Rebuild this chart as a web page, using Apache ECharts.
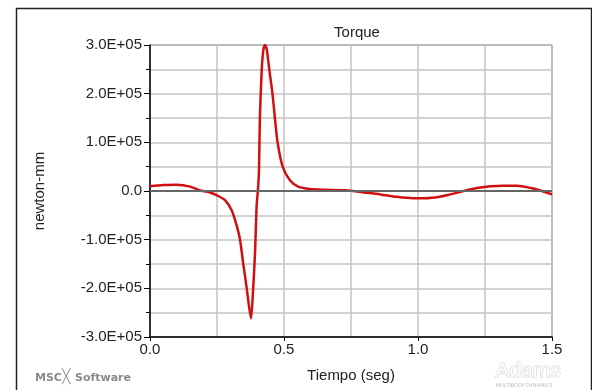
<!DOCTYPE html>
<html>
<head>
<meta charset="utf-8">
<script src="https://cdn.jsdelivr.net/npm/echarts@6/dist/echarts.min.js"></script>
<style>
  html, body { margin: 0; padding: 0; background: #fff; }
  #chart { width: 592px; height: 390px; }
</style>
</head>
<body>
<div id="chart"></div>
<script>
// Tiempo (seg)
const tiempo = [
  0.00, 0.05, 0.10, 0.15, 0.187, 0.21, 0.224, 0.25, 0.28, 0.305,
  0.323, 0.336, 0.348, 0.361, 0.369, 0.377, 0.385, 0.392, 0.398, 0.404,
  0.407, 0.410, 0.417, 0.423, 0.429, 0.436, 0.445, 0.457, 0.466, 0.476,
  0.495, 0.522, 0.553, 0.597, 0.65, 0.73, 0.80, 0.86, 0.92, 0.98,
  1.03, 1.08, 1.12, 1.17, 1.22, 1.27, 1.32, 1.37, 1.43, 1.50
]
// Torque (newton-mm)
const torque = [
  10000, 12500, 13000, 9000, 1000, -1000, -3000, -9000, -19000, -40000,
  -70000, -100000, -150000, -200000, -235000, -262000, -200000, -125000, -30000, 12000,
  50000, 150000, 250000, 290000, 300000, 290000, 250000, 200000, 150000, 100000,
  50000, 22000, 9000, 4000, 2500, 1500, -3000, -7000, -12000, -15000,
  -15000, -12000, -7000, 0, 6000, 10000, 11000, 11000, 5000, -7000
]

const yTicks = { min: -300000, max: 300000, interval: 100000 }
const xTicks = { min: 0, max: 1.5, interval: 0.5 }

const chartDom = document.getElementById("chart")
const torqueChart = echarts.init(chartDom)

// etiquetas del eje y tipo "1.0E+05"
function fmtExp(v) {
  if (v === 0) return "0.0"
  return (v / 100000).toFixed(1) + "E+05"
}

const option = {
  animation: false,
  backgroundColor: "#fff",
  title: {
    text: "Torque",
    left: 352,
    top: 20,
    textAlign: "center",
    textStyle: { fontFamily: "Liberation Sans", fontSize: 15, fontWeight: "normal", color: "#222" }
  },
  grid: {
    left: 150,
    right: 40,
    top: 45,
    bottom: 53,
    show: true,
    borderColor: "#444",
    borderWidth: 1
  },
  xAxis: {
    type: "value",
    min: xTicks.min,
    max: xTicks.max,
    interval: xTicks.interval,
    name: "Tiempo (seg)",
    nameLocation: "middle",
    nameGap: 31,
    nameTextStyle: { fontFamily: "Liberation Sans", fontSize: 15, color: "#222" },
    axisLine: { onZero: false, lineStyle: { color: "#000", width: 1.5 } },
    axisTick: { show: true, length: 4, lineStyle: { color: "#000" } },
    axisLabel: {
      fontFamily: "Liberation Sans",
      fontSize: 15,
      color: "#222",
      margin: 5,
      formatter: (v) => v.toFixed(1)
    },
    splitLine: { show: true, lineStyle: { color: "#c4c4c4", width: 1.5 } },
    minorTick: { show: false, splitNumber: 2 },
    minorSplitLine: { show: true, lineStyle: { color: "#c4c4c4", width: 1.5 } }
  },
  yAxis: {
    type: "value",
    min: yTicks.min,
    max: yTicks.max,
    interval: yTicks.interval,
    name: "newton-mm",
    nameLocation: "middle",
    nameGap: 103,
    nameTextStyle: { fontFamily: "Liberation Sans", fontSize: 15, color: "#222" },
    axisLine: { show: true, lineStyle: { color: "#000", width: 1.5 } },
    axisTick: { show: true, length: 6, lineStyle: { color: "#000" } },
    minorTick: { show: true, splitNumber: 2, length: 4, lineStyle: { color: "#000" } },
    axisLabel: {
      fontFamily: "Liberation Sans",
      fontSize: 15,
      color: "#222",
      margin: 8,
      formatter: fmtExp
    },
    splitLine: { show: true, lineStyle: { color: "#c4c4c4", width: 1.5 } },
    minorSplitLine: { show: true, lineStyle: { color: "#c4c4c4", width: 1.5 } }
  },
  series: [
    {
      type: "line",
      data: tiempo.map((t, i) => [t, torque[i]]),
      showSymbol: false,
      smooth: 0.25,
      clip: true,
      lineStyle: { color: "#d01010", width: 2.5 },
      markLine: {
        silent: true,
        symbol: "none",
        label: { show: false },
        lineStyle: { color: "#666", width: 2, type: "solid" },
        data: [{ yAxis: 0 }]
      },
      z: 3
    }
  ],
  graphic: [
    {
      type: "rect",
      shape: { x: 16.5, y: 8.5, width: 575, height: 400 },
      style: { fill: "none", stroke: "#222", lineWidth: 1.5 },
      silent: true
    },
    {
      type: "text",
      left: 35,
      top: 373,
      style: { text: "MSC", font: "bold 11px 'DejaVu Sans'", fill: "#8a8a8a" }
    },
    {
      type: "text",
      left: 62,
      top: 370,
      style: { text: "\u2573", font: "14px 'DejaVu Sans'", fill: "#9a9a9a" }
    },
    {
      type: "text",
      left: 75,
      top: 373,
      style: { text: "Software", font: "bold 11px 'DejaVu Sans'", fill: "#8a8a8a" }
    },
    {
      type: "text",
      left: 495,
      top: 360,
      style: { text: "Adams", font: "21px 'Liberation Sans Narrow', 'Liberation Sans'", fill: "#fff", stroke: "#ccc", lineWidth: 1 }
    },
    {
      type: "text",
      left: 496,
      top: 383,
      style: { text: "MULTIBODY DYNAMICS", font: "5px 'DejaVu Sans'", fill: "#bbb" }
    }
  ]
}

torqueChart.setOption(option)

window.addEventListener("resize", function () {
  torqueChart.resize()
})
</script>
</body>
</html>
